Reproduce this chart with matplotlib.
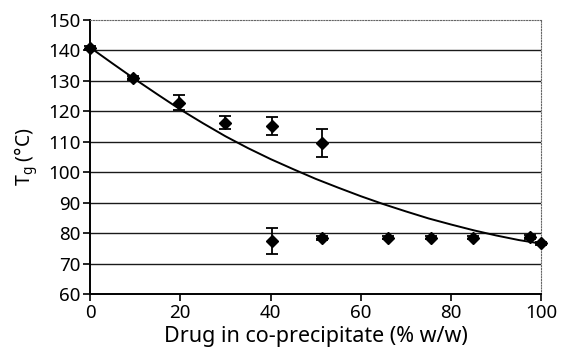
import numpy as np
import matplotlib
matplotlib.use("Agg")
import matplotlib.pyplot as plt

plt.rcParams['font.family'] = ['Noto Sans', 'DejaVu Sans']
plt.rcParams['mathtext.default'] = 'regular'

# measured points (drug % w/w, Tg in degC, error)
drug_pct = [0, 9.6, 19.8, 29.8, 40.3, 51.5, 40.3, 51.5, 66.0, 75.6, 84.8, 97.5, 100]
tg_vals = [140.8, 130.9, 122.8, 116.3, 115.2, 109.6, 77.4, 78.4, 78.5, 78.5, 78.5, 78.8, 76.6]
tg_err = [0.6, 0.6, 2.5, 2.0, 3.0, 4.5, 4.3, 0.6, 0.5, 0.5, 0.5, 0.6, 0.5]

# fitted curve
curve_x = [0, 5, 10, 15, 20, 25, 30, 35, 40, 45, 50, 55, 60, 65, 70, 75, 80, 85, 90, 95, 100]
curve_y = [141.0, 135.7, 130.5, 125.5, 120.6, 116.1, 111.8, 107.9, 104.3, 101.0, 97.8,
           94.9, 92.1, 89.5, 87.1, 84.8, 82.8, 80.9, 79.2, 77.7, 76.5]

xticks = [0, 20, 40, 60, 80, 100]
yticks = [60, 70, 80, 90, 100, 110, 120, 130, 140, 150]

fig = plt.figure(figsize=(5.64, 3.55), dpi=100)
ax = fig.add_axes([0.1596, 0.172, 0.8004, 0.7717])

# grid lines
for yv in yticks[1:-1]:
    ax.axhline(yv, color='#1a1a1a', lw=1.0, zorder=1)

ax.plot(curve_x, curve_y, color='black', lw=1.4, zorder=3, clip_on=False)
ax.errorbar(drug_pct, tg_vals, yerr=tg_err, fmt='D', color='black', ms=6.5,
            elinewidth=1.3, capsize=4, capthick=1.3, zorder=4, clip_on=False)

ax.set_xlim(0, 100)
ax.set_ylim(60, 150)
ax.set_xticks(xticks)
ax.set_yticks(yticks)
ax.tick_params(axis='both', direction='out', length=5, width=1.2, labelsize=13.5, pad=2)

for s in ['left', 'bottom']:
    ax.spines[s].set_linewidth(1.4)
for s in ['top', 'right']:
    ax.spines[s].set_linestyle((0, (1, 1.5)))
    ax.spines[s].set_linewidth(0.8)
    ax.spines[s].set_color('#666666')

ax.set_xlabel('Drug in co-precipitate (% w/w)', fontsize=15.5, labelpad=3)
ax.set_ylabel('T$_g$ (°C)', fontsize=14, labelpad=6)

fig.savefig('out.png', dpi=100)
